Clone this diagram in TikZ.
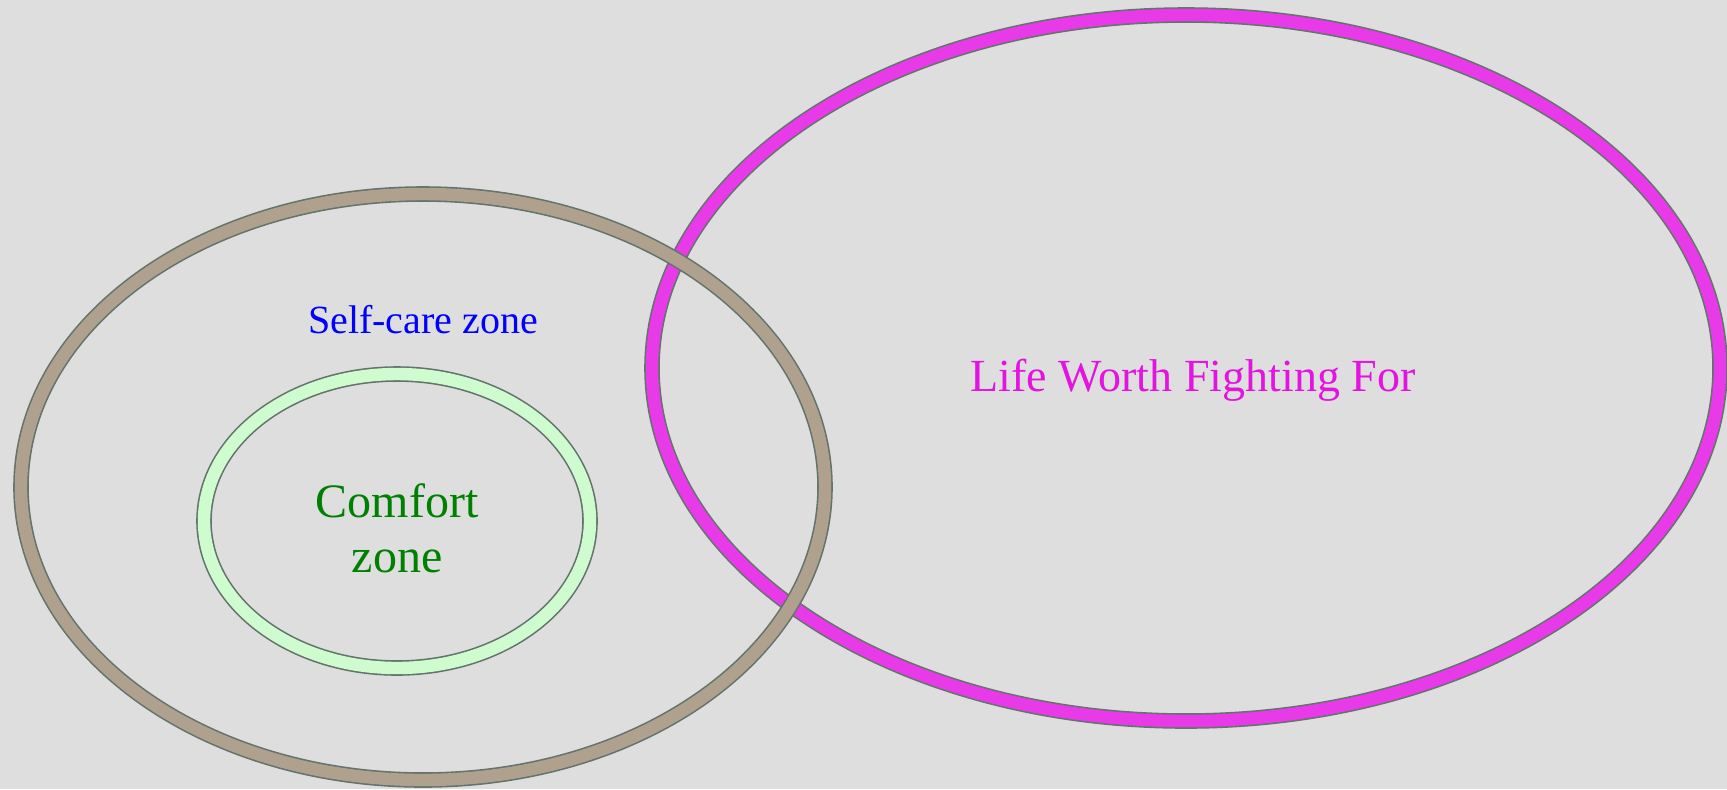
\documentclass[tikz,border=0pt]{standalone}
\usepackage{fontspec}
\setmainfont{Liberation Serif}
\usetikzlibrary{positioning}
\definecolor{paper}{RGB}{222,222,222}
\definecolor{ringedge}{RGB}{100,115,108}
\definecolor{selftan}{RGB}{176,161,142}
\definecolor{comfortgreen}{RGB}{206,252,206}
\definecolor{lifepink}{RGB}{232,58,232}
\definecolor{lifetext}{RGB}{228,20,224}
\definecolor{comforttext}{RGB}{0,128,0}
\definecolor{selftext}{RGB}{0,0,255}

\begin{document}
\begin{tikzpicture}[
  x=0.5pt, y=-0.5pt,
  ring/.style={draw=ringedge, line width=0.8pt, double distance=6.2pt},
  label/.style={inner sep=0pt, align=center}
]
\fill[paper] (0,0) rectangle (1727,789);
\useasboundingbox (0,0) rectangle (1727,789);
% zone centres
\coordinate (lifec) at (1186,368);
\coordinate (selfc) at (423,487);
\coordinate (comfortc) at (397,521);
% rings, back to front
\draw[ring, double=lifepink] (lifec) ellipse [x radius=267pt, y radius=176.5pt];
\draw[ring, double=selftan] (selfc) ellipse [x radius=201pt, y radius=146.5pt];
\draw[ring, double=comfortgreen] (comfortc) ellipse [x radius=96.5pt, y radius=73.5pt];
% texts
\node[label, text=selftext, font=\fontsize{20}{24}\selectfont] (selfcare) at (423,320) {Self-care zone};
\node[label, text=comforttext, font=\fontsize{24}{27.5}\selectfont] (comfort) at (397,528) {Comfort\\zone};
\node[label, text=lifetext, font=\fontsize{23}{26}\selectfont] (life) at (1193,380) {Life Worth Fighting For};
\end{tikzpicture}
\end{document}
